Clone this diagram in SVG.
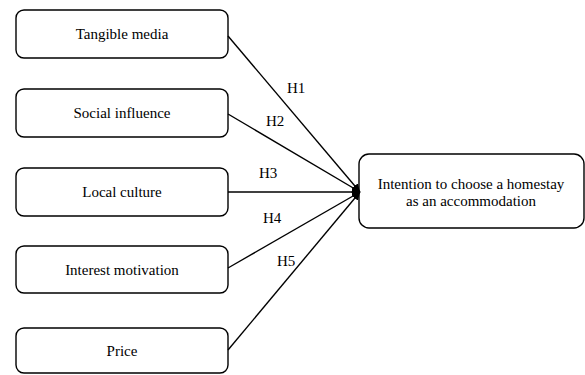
<svg xmlns="http://www.w3.org/2000/svg" width="585" height="375" viewBox="0 0 585 375">
<style>
.box{fill:#fff;stroke:#000;stroke-width:1.4}
.t{font-family:'Liberation Serif','Times New Roman',serif;font-size:15px;fill:#000;text-anchor:middle}
.l{font-family:'Liberation Serif','Times New Roman',serif;font-size:15px;fill:#000}
.c{stroke:#000;stroke-width:1.4;fill:none}
</style>
<defs>
<marker id="ah" viewBox="0 0 10 10" refX="10" refY="5" markerWidth="8" markerHeight="8" markerUnits="userSpaceOnUse" orient="auto">
<path d="M0,0 L10,5 L0,10 z" fill="#000"/>
</marker>
</defs>
<g id="n1"><rect class="box" x="16" y="10" width="212" height="48" rx="8"/><text class="t" x="122" y="39">Tangible media</text></g>
<g id="n2"><rect class="box" x="16" y="89" width="212" height="48" rx="8"/><text class="t" x="122" y="118">Social influence</text></g>
<g id="n3"><rect class="box" x="16" y="168" width="212" height="48" rx="8"/><text class="t" x="122" y="197">Local culture</text></g>
<g id="n4"><rect class="box" x="16" y="246" width="212" height="47" rx="8"/><text class="t" x="122" y="275">Interest motivation</text></g>
<g id="n5"><rect class="box" x="16" y="328" width="212" height="45" rx="8"/><text class="t" x="122" y="356">Price</text></g>
<g id="n6"><rect class="box" x="359" y="154" width="225" height="74" rx="10"/><text class="t" x="471" y="189">Intention to choose a homestay</text><text class="t" x="471" y="206">as an accommodation</text></g>
<g id="connectors">
<line class="c" x1="228" y1="36" x2="360" y2="192" marker-end="url(#ah)"/>
<line class="c" x1="228" y1="114" x2="360" y2="192" marker-end="url(#ah)"/>
<line class="c" x1="228" y1="192" x2="360" y2="192" marker-end="url(#ah)"/>
<line class="c" x1="228" y1="268" x2="360" y2="192" marker-end="url(#ah)"/>
<line class="c" x1="228" y1="350" x2="360" y2="192" marker-end="url(#ah)"/>
<text class="l" x="287" y="93">H1</text>
<text class="l" x="266" y="126">H2</text>
<text class="l" x="259" y="178">H3</text>
<text class="l" x="263" y="223">H4</text>
<text class="l" x="277" y="266">H5</text>
</g>
</svg>
